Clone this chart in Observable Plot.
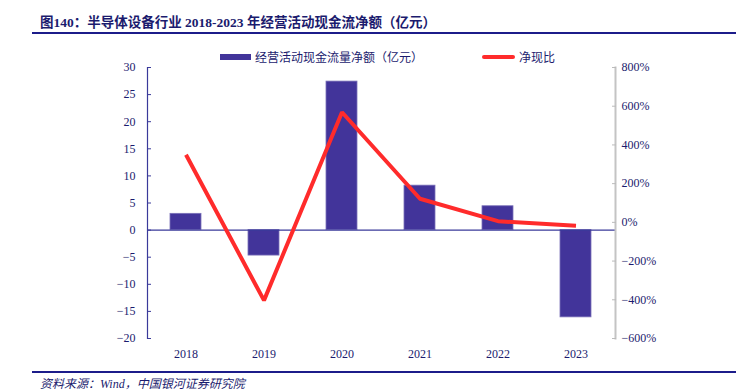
<!DOCTYPE html>
<html><head><meta charset="utf-8">
<script src="https://cdn.jsdelivr.net/npm/d3@7"></script>
<script src="https://cdn.jsdelivr.net/npm/@observablehq/plot@0.6"></script>
<style>
body{margin:0;background:#fff;width:736px;height:391px;overflow:hidden;position:relative;font-family:"Liberation Serif","Noto Sans CJK SC",serif;}
#chart{position:absolute;left:0;top:0;}
.title{position:absolute;left:40px;top:11px;font-size:13.5px;font-weight:bold;color:#1b1b6e;font-family:"Liberation Serif","Noto Sans CJK SC",serif;white-space:nowrap;}
.tline{position:absolute;left:32px;right:0;top:32px;height:2px;background:#1c1c8a;}
.bline{position:absolute;left:32px;right:0;top:371px;height:2px;background:#1c1c8a;}
.src{position:absolute;left:40px;top:374px;font-size:12px;font-style:italic;color:#1b1b6e;white-space:nowrap;}
.leg{position:absolute;top:48px;font-size:12px;color:#1b1b6e;white-space:nowrap;display:flex;align-items:center;}
.sw{display:inline-block;margin-right:4px;}
</style></head><body>
<div id="chart"></div>
<div class="title">图140：半导体设备行业 2018-2023 年经营活动现金流净额（亿元）</div>
<div class="tline"></div>
<div class="leg" style="left:220px"><span class="sw" style="width:31px;height:6px;background:#42349a"></span>经营活动现金流量净额（亿元）</div>
<div class="leg" style="left:482px"><span class="sw" style="width:33px;height:4px;border-radius:2px;background:#ff2b2b"></span>净现比</div>
<div class="bline"></div>
<div class="src">资料来源：Wind，中国银河证券研究院</div>
<script>
const years = ["2018","2019","2020","2021","2022","2023"];
const cashFlow = [3.0, -4.7, 27.4, 8.2, 4.4, -16.1];
const ratioPct = [349, -403, 569, 122, 6, -18];
const leftTicks = [-20,-15,-10,-5,0,5,10,15,20,25,30];
const rightTicks = [-600,-400,-200,0,200,400,600,800];

const leftDomain = [-20, 30];
const rightDomain = [-600, 800];
const toLeft = p => leftDomain[0] + (p - rightDomain[0]) / (rightDomain[1] - rightDomain[0]) * (leftDomain[1] - leftDomain[0]);
const fromLeft = v => Math.round(rightDomain[0] + (v - leftDomain[0]) / (leftDomain[1] - leftDomain[0]) * (rightDomain[1] - rightDomain[0]));

const rows = years.map((y, i) => ({year: y, cash: cashFlow[i], ratio: toLeft(ratioPct[i])}));
const navy = "#1b1b6e";

const plot = Plot.plot({
  width: 736, height: 391,
  marginLeft: 147, marginRight: 121, marginTop: 67, marginBottom: 53,
  style: {fontFamily: '"Liberation Serif", serif', fontSize: "12px", color: navy, background: "transparent"},
  x: {domain: years, paddingInner: 0.6, paddingOuter: 0.3, label: null},
  y: {domain: leftDomain, label: null},
  marks: [
    Plot.barY(rows, {x: "year", y: "cash", fill: "#42349a", stroke: "#7a70b8", strokeWidth: 0.8}),
    Plot.ruleY([0], {stroke: "#3a3a9a", strokeWidth: 1.2}),
    Plot.frame({anchor: "left", stroke: "#3a3a9a", strokeWidth: 1.2}),
    Plot.frame({anchor: "right", stroke: "#c4c4c4", strokeWidth: 2}),
    Plot.axisY({ticks: leftTicks, anchor: "left", tickSize: -4, tickPadding: 16, stroke: "#3a3a9a", tickFormat: d => d < 0 ? "\u2212" + Math.abs(d) : String(d)}),
    Plot.axisY(rightTicks.map(toLeft), {anchor: "right", tickSize: -4, tickPadding: 10, stroke: "#bbbbbb", tickFormat: v => { const p = fromLeft(v); return (p < 0 ? "\u2212" + Math.abs(p) : p) + "%"; }}),
    Plot.axisX({tickSize: 0, tickPadding: 11, anchor: "bottom"}),
    Plot.lineY(rows, {x: "year", y: "ratio", stroke: "#ff2b2b", strokeWidth: 4, strokeLinejoin: "miter", strokeLinecap: "butt"})
  ]
});
document.getElementById("chart").appendChild(plot);
</script>
</body></html>
